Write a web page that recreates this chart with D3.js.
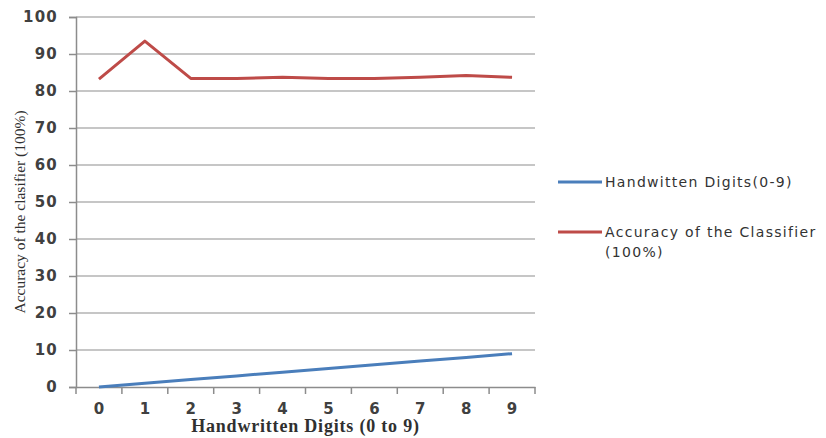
<!DOCTYPE html>
<html>
<head>
<meta charset="utf-8">
<script src="https://cdn.jsdelivr.net/npm/d3@7/dist/d3.min.js"></script>
<style>
  body { margin: 0; background: #fff; }
  svg { display: block; }
</style>
</head>
<body>
<div id="chart"></div>
<script>
// chart values
var digits = ["0", "1", "2", "3", "4", "5", "6", "7", "8", "9"];
var digitSeries = [0, 1, 2, 3, 4, 5, 6, 7, 8, 9];
var accuracySeries = [83.2, 93.5, 83.4, 83.4, 83.7, 83.4, 83.4, 83.7, 84.2, 83.7];
var yTicks = [0, 10, 20, 30, 40, 50, 60, 70, 80, 90, 100];
var seriesNames = ["Handwitten Digits(0-9)", "Accuracy of the Classifier|(100%)"];
var seriesColors = ["#4a7ebb", "#be4b48"];

var width = 826, height = 438;
var margins = {top: 17, right: 291, bottom: 51, left: 76};

var svg = d3.select("#chart").append("svg")
    .attr("width", width)
    .attr("height", height);

var x = d3.scaleBand()
    .domain(digits)
    .range([margins.left, width - margins.right]);

var y = d3.scaleLinear()
    .domain([0, 100])
    .range([height - margins.bottom, margins.top]);

// gridlines
svg.append("g").selectAll("line")
    .data(yTicks.filter(function(d) { return d > 0; }))
    .enter().append("line")
    .attr("x1", margins.left)
    .attr("x2", width - margins.right)
    .attr("y1", function(d) { return y(d); })
    .attr("y2", function(d) { return y(d); })
    .attr("stroke", "#b3b3b3")
    .attr("stroke-width", 1.5);

// y axis
var yAxis = svg.append("g")
    .attr("transform", "translate(" + margins.left + ",0)")
    .call(d3.axisLeft(y).tickValues(yTicks).tickSize(7).tickPadding(11));
yAxis.select(".domain").attr("stroke", "#8c8c8c").attr("stroke-width", 1.5);
yAxis.selectAll(".tick line").attr("stroke", "#8c8c8c").attr("stroke-width", 1.5);
yAxis.selectAll(".tick text")
    .attr("font-family", "DejaVu Sans")
    .attr("font-weight", "bold")
    .attr("font-size", "15px")
    .attr("letter-spacing", "1.2px")
    .attr("fill", "#404040");

// x axis, ticks between categories
var xAxis = svg.append("g")
    .attr("transform", "translate(0," + y(0) + ")")
    .call(d3.axisBottom(x).tickSize(0).tickPadding(16));
xAxis.select(".domain").attr("stroke", "#8c8c8c").attr("stroke-width", 1.5);
xAxis.selectAll(".tick text")
    .attr("font-family", "DejaVu Sans")
    .attr("font-weight", "bold")
    .attr("font-size", "15px")
    .attr("fill", "#404040");
var bounds = digits.map(function(d) { return x(d); }).concat([x.range()[1]]);
xAxis.selectAll("line.sep")
    .data(bounds)
    .enter().append("line")
    .attr("class", "sep")
    .attr("x1", function(d) { return d; })
    .attr("x2", function(d) { return d; })
    .attr("y1", 0)
    .attr("y2", 7)
    .attr("stroke", "#8c8c8c")
    .attr("stroke-width", 1.5);

// lines
var line = d3.line()
    .x(function(d, i) { return x(digits[i]) + x.bandwidth() / 2; })
    .y(function(d) { return y(d); });

[digitSeries, accuracySeries].forEach(function(s, k) {
    svg.append("path")
        .datum(s)
        .attr("d", line)
        .attr("fill", "none")
        .attr("stroke", seriesColors[k])
        .attr("stroke-width", 3)
        .attr("stroke-linejoin", "round");
});

// axis titles
svg.append("text")
    .attr("x", (margins.left + width - margins.right) / 2)
    .attr("y", 432)
    .attr("text-anchor", "middle")
    .attr("font-family", "Liberation Serif")
    .attr("font-weight", "bold")
    .attr("font-size", "18px")
    .attr("letter-spacing", "0.8px")
    .attr("fill", "#303030")
    .text("Handwritten Digits (0 to 9)");

svg.append("text")
    .attr("transform", "translate(25,212)rotate(-90)")
    .attr("text-anchor", "middle")
    .attr("font-family", "Liberation Serif")
    .attr("font-size", "15.5px")
    .attr("fill", "#303030")
    .text("Accuracy of the clasifier (100%)");

// legend
var legendY = [182, 232];
seriesNames.forEach(function(name, k) {
    var g = svg.append("g").attr("transform", "translate(558," + legendY[k] + ")");
    g.append("line")
        .attr("x1", 0).attr("x2", 44)
        .attr("y1", 0).attr("y2", 0)
        .attr("stroke", seriesColors[k])
        .attr("stroke-width", 3);
    var t = g.append("text")
        .attr("x", 47)
        .attr("y", 5)
        .attr("font-family", "DejaVu Sans")
        .attr("font-size", "14px")
        .attr("letter-spacing", "1.3px")
        .attr("fill", "#333");
    name.split("|").forEach(function(part, j) {
        t.append("tspan")
            .attr("x", 47)
            .attr("dy", j === 0 ? 0 : 20)
            .text(part);
    });
});
</script>
</body>
</html>
